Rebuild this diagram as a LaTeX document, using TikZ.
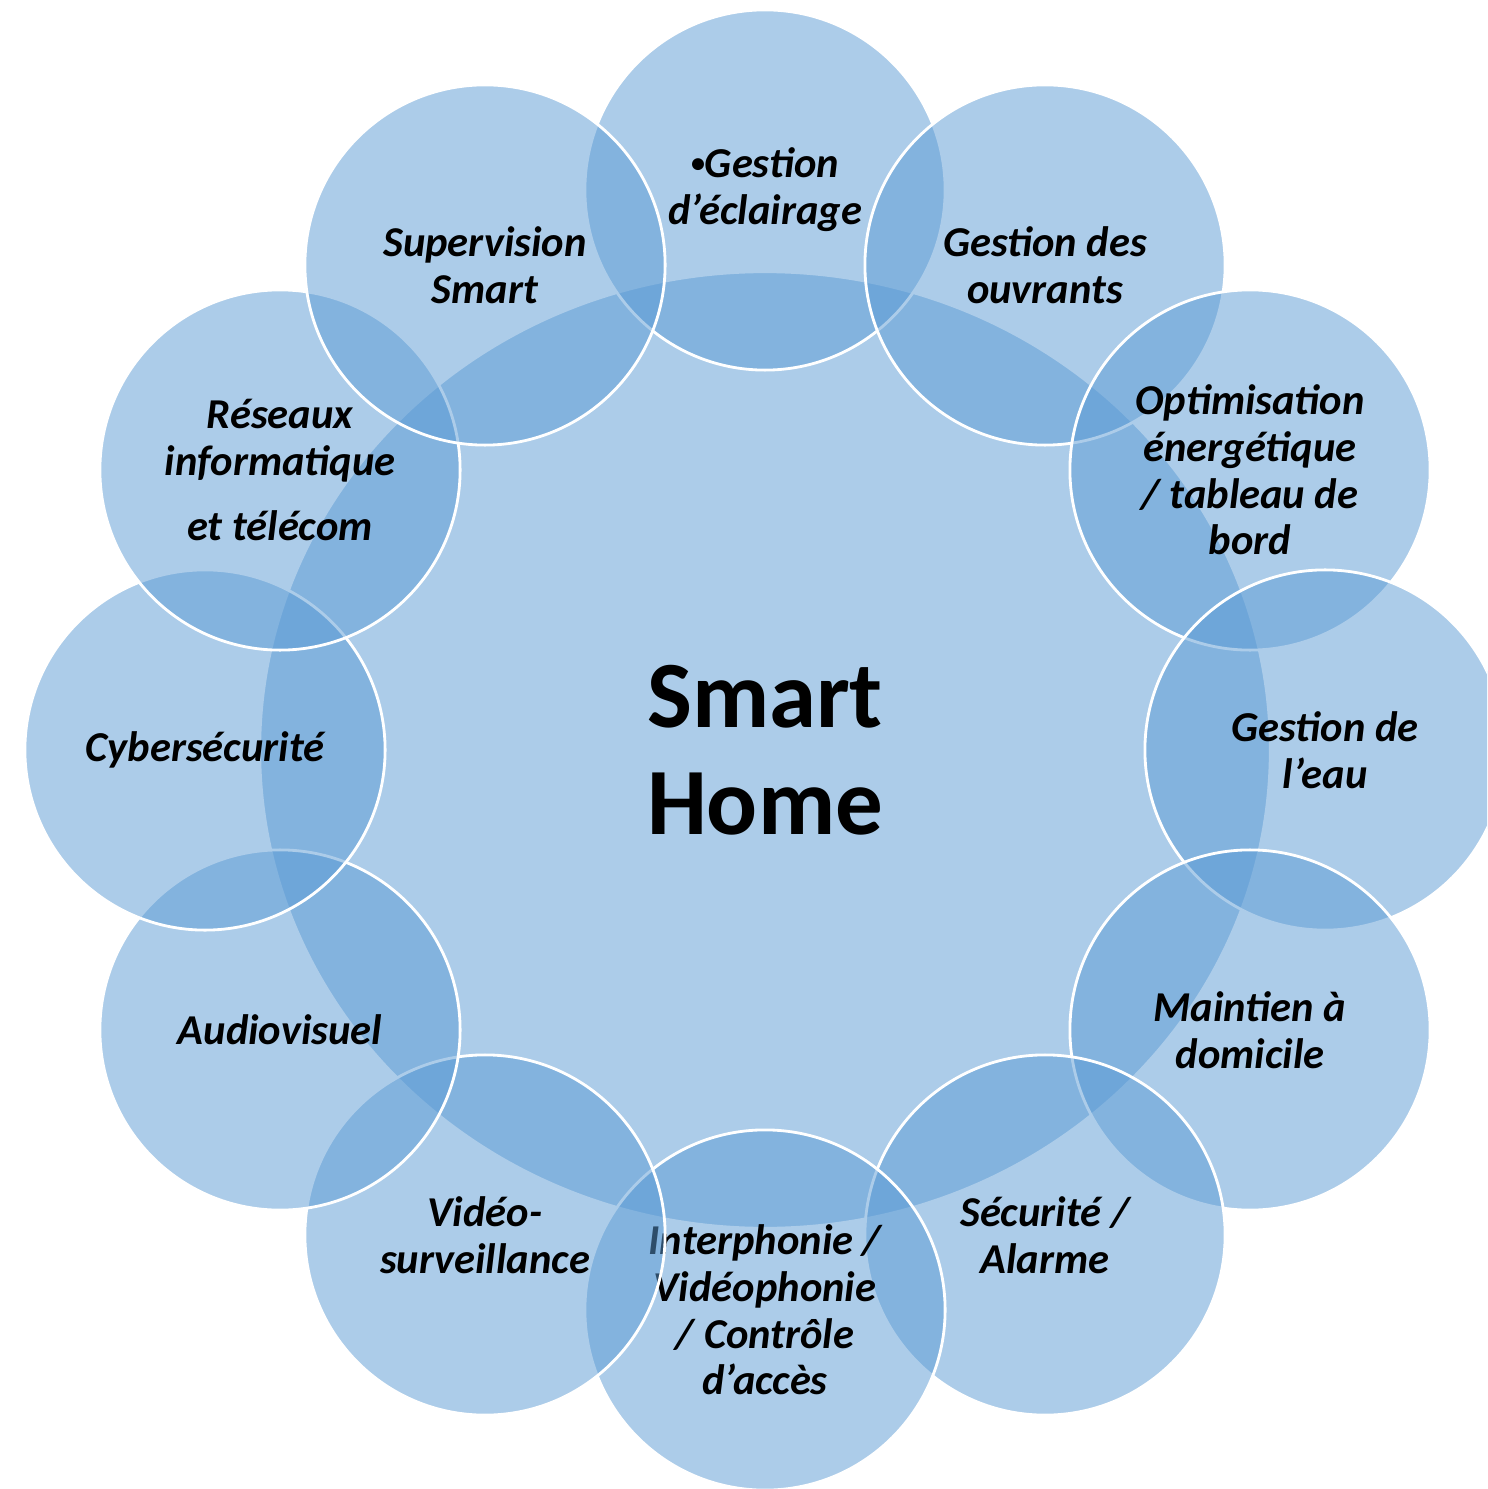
\documentclass[tikz,border=0pt]{standalone}
\usepackage{fontspec}
\setmainfont{Carlito}
\usetikzlibrary{shapes.geometric}
\definecolor{smblue}{HTML}{5B9BD5}
\newcommand{\smbullet}{\raisebox{0.12em}{\fontsize{8pt}{8pt}\selectfont •}}
\tikzset{
  bubble/.style={circle, fill=smblue, fill opacity=0.5, text opacity=1,
    draw=white, draw opacity=1, line width=0.8pt, minimum size=3.6cm,
    inner sep=0pt, align=center,
    font=\bfseries\itshape\fontsize{12.1pt}{13.3pt}\selectfont},
  hubstyle/.style={ellipse, fill=smblue, fill opacity=0.5, text opacity=1,
    draw=white, draw opacity=1, line width=0.8pt, minimum width=10.1cm,
    minimum height=9.56cm, inner sep=0pt, align=center,
    font=\bfseries\fontsize{27pt}{30.4pt}\selectfont}
}
\begin{document}
\begin{tikzpicture}[x=0.01cm, y=-0.01cm]
\clip (0,0) rectangle (1487,1489);
\fill[white] (0,0) rectangle (1487,1489);
\node[hubstyle] (hub) at (765,750) {Smart\\Home};
\node[bubble] (s0) at (765,190) {\smbullet Gestion\\d’éclairage};
\node[bubble] (s1) at (1045,265) {Gestion des\\ouvrants};
\node[bubble] (s2) at (1250,470) {Optimisation\\énergétique\\/ tableau de\\bord};
\node[bubble] (s3) at (1325,750) {Gestion de\\l’eau};
\node[bubble] (s4) at (1250,1030) {Maintien à\\domicile};
\node[bubble] (s5) at (1045,1235) {Sécurité /\\Alarme};
\node[bubble] (s6) at (765,1310) {Interphonie /\\Vidéophonie\\/ Contrôle\\d’accès};
\node[bubble] (s7) at (485,1235) {Vidéo-\\surveillance};
\node[bubble] (s8) at (280,1030) {Audiovisuel};
\node[bubble] (s9) at (205,750) {Cybersécurité};
\node[bubble] (s10) at (280,470) {Réseaux\\informatique\\[5pt]et télécom};
\node[bubble] (s11) at (485,265) {Supervision\\Smart};
\end{tikzpicture}
\end{document}
